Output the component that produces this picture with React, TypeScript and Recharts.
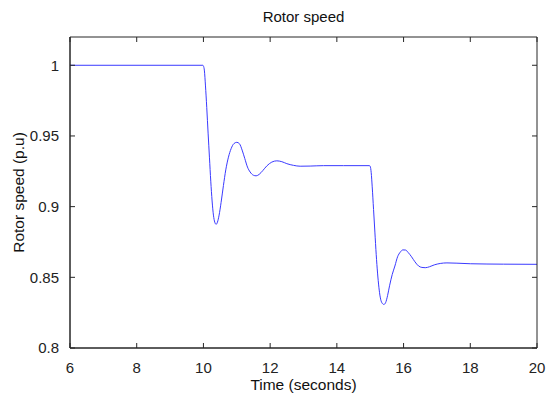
import React from 'react';
import { LineChart, Line, XAxis, YAxis, Label } from 'recharts';

const time = [
  6, 9.98, 10.0, 10.03, 10.06, 10.1, 10.14, 10.18, 10.22, 10.26, 10.3, 10.34, 10.38, 10.42, 10.47,
  10.53, 10.6, 10.67, 10.75, 10.83, 10.91, 11.0, 11.08, 11.16, 11.24, 11.32, 11.4, 11.5, 11.58,
  11.67, 11.78, 11.9, 12.05, 12.2, 12.35, 12.5, 12.7, 12.9, 13.2, 13.6, 14.2, 14.98,
  15.0, 15.03, 15.06, 15.1, 15.14, 15.18, 15.22, 15.26, 15.3, 15.35, 15.41, 15.46, 15.52, 15.58,
  15.66, 15.74, 15.82, 15.9, 15.98, 16.06, 16.14, 16.24, 16.34, 16.45, 16.55, 16.65, 16.78,
  16.92, 17.1, 17.3, 17.6, 18.0, 19.0, 20.0,
];

const speed = [
  1.0, 1.0, 0.9995, 0.996, 0.986, 0.97, 0.952, 0.935, 0.918, 0.904, 0.894, 0.889, 0.8875, 0.889, 0.894,
  0.903, 0.915, 0.926, 0.935, 0.941, 0.9445, 0.9455, 0.9445, 0.94, 0.934, 0.928, 0.9245, 0.9222, 0.9218,
  0.9228, 0.9255, 0.9288, 0.9315, 0.9324, 0.9318, 0.9304, 0.9292, 0.9286, 0.9287, 0.929, 0.929, 0.929,
  0.9285, 0.924, 0.914, 0.898, 0.882, 0.866, 0.853, 0.843, 0.836, 0.832, 0.8308, 0.832, 0.837, 0.844,
  0.852, 0.858, 0.8645, 0.8678, 0.8694, 0.8693, 0.8675, 0.8645, 0.861, 0.858, 0.857, 0.8568, 0.8575,
  0.8588, 0.8598, 0.8602, 0.86, 0.8596, 0.8593, 0.8592,
];

const xTicks = [6, 8, 10, 12, 14, 16, 18, 20];
const yTicks = [0.8, 0.85, 0.9, 0.95, 1];

const data = time.map((t, i) => ({ t, v: speed[i] }));

const FONT = '"Liberation Sans", Arial, Helvetica, sans-serif';
const AXIS = '#262626';

const YLabel = (props: any) => {
  const vb = props.viewBox || { x: 0, y: 37, width: 70, height: 311 };
  const cx = 18;
  const cy = vb.y + vb.height / 2;
  return (
    <text
      x={cx}
      y={cy}
      transform={`rotate(-90, ${cx}, ${cy})`}
      textAnchor="middle"
      dominantBaseline="central"
      fontSize={15.5}
      fontFamily={FONT}
      fill="#111"
    >
      Rotor speed (p.u)
    </text>
  );
};

const XLabel = (props: any) => {
  const vb = props.viewBox || { x: 70, y: 348, width: 467, height: 48 };
  const cx = vb.x + vb.width / 2;
  return (
    <text x={cx} y={390} textAnchor="middle" fontSize={15.5} fontFamily={FONT} fill="#111">
      Time (seconds)
    </text>
  );
};

export default function App() {
  const blank = () => '';
  return (
    <div style={{ position: 'absolute', left: 0, top: 0, width: 548, height: 396, background: '#fff' }}>
      <div
        style={{
          position: 'absolute',
          left: 70,
          width: 467,
          top: 7,
          textAlign: 'center',
          fontFamily: FONT,
          fontSize: 15,
          lineHeight: '20px',
          color: '#111',
        }}
      >
        Rotor speed
      </div>
      <LineChart width={548} height={396} data={data} margin={{ top: 37, right: 11, bottom: 0, left: 0 }}>
        <XAxis
          xAxisId="b"
          dataKey="t"
          type="number"
          domain={[6, 20]}
          ticks={xTicks}
          allowDataOverflow
          height={48}
          tickLine={false}
          axisLine={{ stroke: AXIS }}
          tickMargin={8}
          tick={{ fill: '#222', fontSize: 15, fontFamily: FONT }}
        >
          <Label content={<XLabel />} />
        </XAxis>
        <XAxis
          xAxisId="bm"
          dataKey="t"
          type="number"
          orientation="bottom"
          mirror
          domain={[6, 20]}
          ticks={xTicks}
          allowDataOverflow
          height={20}
          tickSize={5}
          tickFormatter={blank}
          stroke={AXIS}
        />
        <XAxis
          xAxisId="tm"
          dataKey="t"
          type="number"
          orientation="top"
          mirror
          domain={[6, 20]}
          ticks={xTicks}
          allowDataOverflow
          height={20}
          tickSize={5}
          tickFormatter={blank}
          stroke={AXIS}
        />
        <YAxis
          yAxisId="l"
          type="number"
          domain={[0.8, 1.02]}
          ticks={yTicks}
          allowDataOverflow
          width={70}
          tickLine={false}
          axisLine={{ stroke: AXIS }}
          tickMargin={5}
          tick={{ fill: '#222', fontSize: 15, fontFamily: FONT }}
        >
          <Label content={<YLabel />} />
        </YAxis>
        <YAxis
          yAxisId="lm"
          type="number"
          mirror
          domain={[0.8, 1.02]}
          ticks={yTicks}
          allowDataOverflow
          width={20}
          tickSize={5}
          tickFormatter={blank}
          stroke={AXIS}
        />
        <YAxis
          yAxisId="rm"
          type="number"
          orientation="right"
          mirror
          domain={[0.8, 1.02]}
          ticks={yTicks}
          allowDataOverflow
          width={20}
          tickSize={5}
          tickFormatter={blank}
          stroke={AXIS}
        />
        <Line
          xAxisId="b"
          yAxisId="l"
          type="monotone"
          dataKey="v"
          stroke="#3a3aff"
          strokeWidth={1}
          dot={false}
          isAnimationActive={false}
        />
      </LineChart>
    </div>
  );
}
